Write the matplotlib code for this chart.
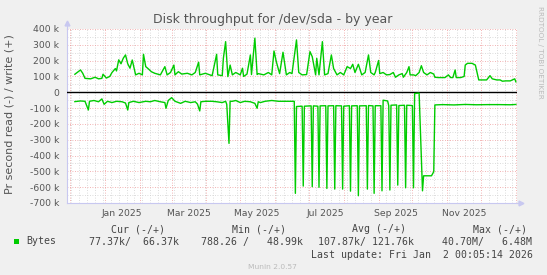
import numpy as np
import matplotlib
matplotlib.use("Agg")
import matplotlib.pyplot as plt
import matplotlib.dates as mdates
from matplotlib.patches import Rectangle
from matplotlib.ticker import MultipleLocator, FuncFormatter
import matplotlib.transforms as mtrans

# days counted from 2025-01-01, values in k bytes/s
write_day = [-27, -22, -20, -18, -13, -9, -6, -3, -2, 1, 4, 6, 9, 10, 12, 14, 16, 18, 20, 22,
             24, 27, 30, 33, 34, 36, 38, 41, 44, 49, 53, 55, 58, 61, 62, 65, 68, 73, 77, 80,
             83, 84, 89, 95, 99, 100, 104, 105, 107, 109, 111, 113, 116, 120, 122, 123, 126, 129, 130, 133,
             135, 136, 141, 145, 148, 150, 152, 155, 158, 161, 164, 166, 170, 172, 175, 179, 182, 184, 187, 188,
             190, 193, 195, 198, 201, 203, 206, 209, 212, 215, 218, 220, 222, 225, 228, 231, 234, 236, 239, 240,
             243, 244, 247, 250, 253, 256, 258, 261, 264, 265, 268, 270, 271, 274, 276, 279, 281, 283, 286, 289,
             292, 293, 296, 302, 305, 307, 309, 311, 312, 316, 319, 320, 322, 326, 329, 330, 332, 335, 339, 342,
             344, 348, 351, 353, 356, 360, 364, 365]
write_val = [114, 141, 120, 88, 85, 95, 85, 88, 114, 90, 100, 125, 150, 135, 205, 180, 215, 236, 180, 152,
             204, 110, 120, 110, 240, 162, 150, 130, 120, 110, 162, 110, 125, 172, 110, 130, 115, 120, 110, 125,
             190, 110, 120, 105, 240, 110, 105, 215, 320, 99, 172, 110, 125, 110, 152, 100, 115, 236, 112, 342,
             112, 118, 110, 125, 110, 261, 195, 118, 253, 110, 125, 118, 331, 125, 110, 112, 257, 225, 110, 215,
             110, 320, 110, 118, 236, 150, 110, 125, 110, 162, 150, 177, 125, 177, 110, 125, 236, 125, 110, 125,
             201, 118, 125, 110, 112, 125, 95, 110, 118, 95, 125, 162, 110, 110, 105, 125, 168, 125, 110, 125,
             115, 95, 93, 93, 110, 93, 93, 141, 93, 93, 100, 172, 183, 183, 172, 140, 78, 78, 78, 105,
             85, 78, 78, 70, 72, 72, 85, 66]

read_day = [-27, -22, -18, -15, -14, -10, -6, -3, -1, 2, 6, 10, 15, 18, 20, 21, 25, 30, 36, 40,
            44, 49, 53, 54, 56, 59, 62, 67, 71, 76, 80, 82, 84, 85, 89, 95, 99, 104, 107, 108,
            110, 111, 113, 116, 120, 124, 129, 133, 135, 136, 138, 142, 148, 154, 160, 166, 168, 169, 170, 175,
            176, 177, 183, 184, 185, 189, 190, 191, 196, 197, 198, 203, 204, 205, 210, 211, 212, 217, 218, 219,
            224, 225, 226, 232, 233, 234, 238, 239, 240, 245, 246, 247, 251, 252, 253, 254, 259, 260, 261, 266,
            267, 268, 273, 274, 275, 279, 282, 283, 290, 292, 293, 300, 310, 320, 330, 340, 350, 360, 365]
read_val = [-59, -55, -57, -112, -57, -52, -60, -42, -76, -57, -65, -57, -60, -68, -112, -65, -57, -65, -57, -60,
            -52, -60, -65, -101, -52, -34, -57, -70, -57, -65, -60, -75, -118, -60, -57, -57, -60, -65, -57, -76,
            -323, -57, -57, -52, -65, -57, -60, -70, -101, -60, -65, -57, -52, -57, -57, -57, -57, -639, -90, -88,
            -593, -88, -86, -597, -86, -88, -601, -86, -85, -608, -86, -85, -612, -85, -86, -612, -88, -85, -625, -86,
            -85, -654, -86, -85, -612, -84, -86, -639, -85, -85, -623, -50, -55, -85, -618, -82, -80, -587, -84, -82,
            -604, -82, -84, -604, -8, -5, -623, -528, -528, -502, -80, -78, -80, -77, -79, -78, -78, -79, -77]

month_labels = ["Jan 2025", "Mar 2025", "May 2025", "Jul 2025", "Sep 2025", "Nov 2025"]
label_dates = ["2025-01-16", "2025-03-16", "2025-05-16", "2025-07-16", "2025-09-16", "2025-11-16"]

legend_head = ["Cur (-/+)", "Min (-/+)", "Avg (-/+)", "Max (-/+)"]
legend_vals = ["77.37k/  66.37k", "788.26 /   48.99k", "107.87k/ 121.76k", "40.70M/   6.48M"]

W, H = 547, 275
base = np.datetime64("2025-01-01")


def to_dates(days):
    return base + np.array(days).astype("timedelta64[D]")


fig = plt.figure(figsize=(W / 100, H / 100), dpi=100, facecolor="#F0F0F0")
ax = fig.add_axes([67 / W, 72 / H, 450 / W, 174 / H])
ax.set_facecolor("white")

green = "#00CC00"
ax.plot(to_dates(write_day), np.array(write_val) * 1000, color=green, lw=1.0, zorder=4)
ax.plot(to_dates(read_day), np.array(read_val) * 1000, color=green, lw=1.0, zorder=4)
ax.axhline(0, color="black", lw=1.0, zorder=3)

ax.set_xlim(np.datetime64("2024-11-28T00:05"), np.datetime64("2026-01-02T00:05"))
ax.set_ylim(-700000, 400000)

ax.xaxis.set_major_locator(mdates.MonthLocator())
ax.xaxis.set_minor_locator(mdates.WeekdayLocator(byweekday=mdates.MO))
ax.yaxis.set_major_locator(MultipleLocator(100000))
ax.yaxis.set_minor_locator(MultipleLocator(50000))
ax.yaxis.set_major_formatter(FuncFormatter(lambda v, p: "0" if v == 0 else "%d k" % round(v / 1000)))

ax.grid(which="minor", color="#D0D0D0", ls=(0, (1, 2)), lw=0.6, zorder=1)
ax.grid(which="major", color="#EE9A9A", ls=(0, (1, 2)), lw=0.6, zorder=2)

ax.tick_params(axis="x", which="both", length=0, labelbottom=False)
ax.tick_params(axis="y", which="both", length=0, pad=5.5, labelsize=6.7, labelcolor="#555555")

for s in ["top", "right"]:
    ax.spines[s].set_visible(False)
axis_col = "#C8C8F0"
for s in ["left", "bottom"]:
    ax.spines[s].set_color(axis_col)
    ax.spines[s].set_linewidth(0.8)
ax.plot([0, 0], [1, 1 + 6 / 174], transform=ax.transAxes, color=axis_col, lw=0.8, clip_on=False)
ax.plot([1, 1 + 4 / 450], [0, 0], transform=ax.transAxes, color=axis_col, lw=0.8, clip_on=False)
ax.plot([0], [1 + 6 / 174], marker="^", ms=3.5, color=axis_col, transform=ax.transAxes, clip_on=False)
ax.plot([1 + 4 / 450], [0], marker=">", ms=3.5, color=axis_col, transform=ax.transAxes, clip_on=False)

trans = mtrans.blended_transform_factory(ax.transData, ax.transAxes)
for d, lab in zip(label_dates, month_labels):
    ax.text(mdates.date2num(np.datetime64(d)), -10 / 174, lab, transform=trans,
            ha="center", va="center", fontsize=6.7, color="#555555")

fig.text(273 / W, 1 - 19 / H, "Disk throughput for /dev/sda - by year", ha="center", va="center",
         fontsize=9, color="#555555")
fig.text(10 / W, 1 - 114 / H, "Pr second read (-) / write (+)", rotation=90, ha="center", va="center",
         fontsize=8, color="#555555")
fig.text(540 / W, 1 - 52 / H, "RRDTOOL / TOBI OETIKER", rotation=270, ha="center", va="center",
         fontsize=5.2, color="#BBBBBB")
fig.text(272.5 / W, 1 - 267 / H, "Munin 2.0.57", ha="center", va="center", fontsize=5.4, color="#BBBBBB")

mono = dict(family="DejaVu Sans Mono", fontsize=7.15, color="#444444", va="center")
for x, t in zip([111, 232, 352, 472.6], legend_head):
    fig.text(x / W, 1 - 229 / H, t, ha="left", **mono)
fig.text(26.2 / W, 1 - 241.5 / H, "Bytes", ha="left", **mono)
for x, t in zip([89, 201, 318.5, 442], legend_vals):
    fig.text(x / W, 1 - 241.5 / H, t, ha="left", **mono)
fig.text(532.6 / W, 1 - 254.5 / H, "Last update: Fri Jan  2 00:05:14 2026", ha="right", **mono)
fig.add_artist(Rectangle((14 / W, 1 - 244 / H), 5 / W, 5 / H, transform=fig.transFigure,
                         facecolor=green, edgecolor="none"))

fig.savefig("out.png", dpi=100, facecolor=fig.get_facecolor())
